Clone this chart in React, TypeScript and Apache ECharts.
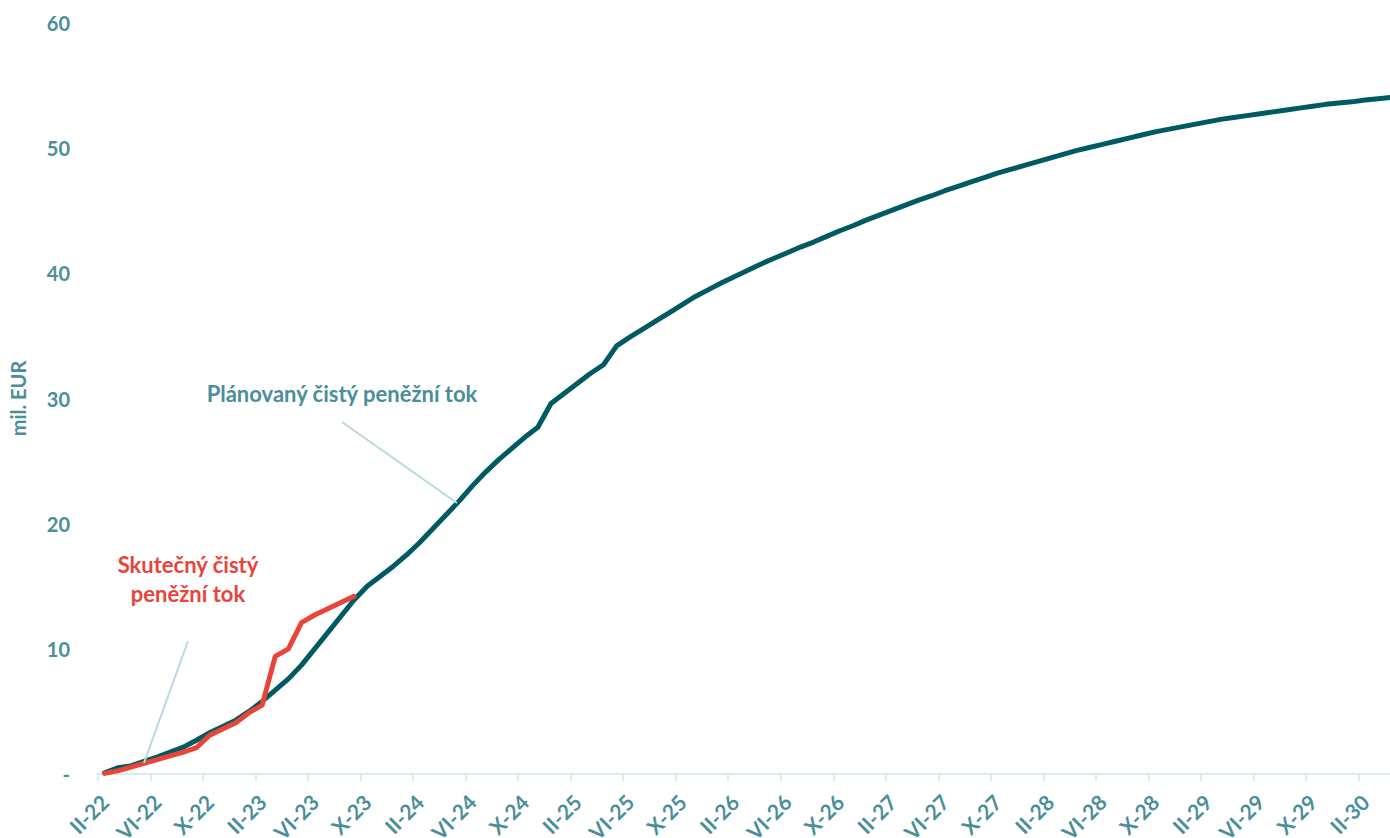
import React, { useEffect, useRef } from "react";
import * as echarts from "echarts";

const ROMAN = ["I", "II", "III", "IV", "V", "VI", "VII", "VIII", "IX", "X", "XI", "XII"];
const START_YEAR = 22;
const START_MONTH = 1; // index into ROMAN (II)
const MONTH_COUNT = 100;

const categories: string[] = [];
for (let i = 0; i < MONTH_COUNT; i++) {
  const m = (START_MONTH + i) % 12;
  const y = START_YEAR + Math.floor((START_MONTH + i) / 12);
  categories.push(`${ROMAN[m]}-${y}`);
}

const planned = [
  0.1, 0.5, 0.65, 1.0, 1.35, 1.75, 2.15, 2.7, 3.3, 3.8,
  4.3, 5.0, 5.8, 6.7, 7.6, 8.7, 10.0, 11.3, 12.6, 13.9,
  15.0, 15.8, 16.6, 17.5, 18.5, 19.6, 20.7, 21.8, 23.0, 24.1,
  25.1, 26.0, 26.9, 27.7, 29.6, 30.4, 31.2, 32.0, 32.7, 34.2,
  34.9, 35.55, 36.2, 36.85, 37.5, 38.15, 38.7, 39.25, 39.75, 40.25,
  40.75, 41.2, 41.65, 42.1, 42.5, 42.95, 43.4, 43.8, 44.25, 44.65,
  45.05, 45.45, 45.85, 46.2, 46.6, 46.95, 47.3, 47.65, 48.0, 48.3,
  48.6, 48.9, 49.2, 49.5, 49.8, 50.05, 50.3, 50.55, 50.8, 51.05,
  51.3, 51.5, 51.7, 51.9, 52.1, 52.3, 52.45, 52.6, 52.75, 52.9,
  53.05, 53.2, 53.35, 53.5, 53.6, 53.7, 53.85, 53.95, 54.05, 54.15,
];

const actual = [
  0.05, 0.25, 0.55, 0.85, 1.15, 1.45, 1.75, 2.1, 3.1, 3.6,
  4.1, 4.9, 5.5, 9.4, 10.0, 12.1, 12.7, 13.2, 13.7, 14.2,
];

const PLAN_LABEL = "Plánovaný čistý peněžní tok";
const ACTUAL_LABEL = ["Skutečný čistý", "peněžní tok"];
const Y_NAME = "mil. EUR";

const TEAL_TEXT = "#4A8E99";
const PLAN_COLOR = "#005A62";
const RED = "#E8443A";
const AXIS_COLOR = "#DCEBEE";
const LEADER = "#B7D9DF";
const FONT = "Lato, 'Open Sans', sans-serif";

export default function App() {
  const ref = useRef<HTMLDivElement>(null);
  useEffect(() => {
    if (!ref.current) return;
    const chart = echarts.init(ref.current, null, { renderer: "svg" });
    chart.setOption({
      animation: false,
      backgroundColor: "#ffffff",
      textStyle: { fontFamily: FONT },
      grid: { left: 98, right: 0, top: 23, bottom: 64, containLabel: false, outerBoundsMode: "none" },
      xAxis: {
        type: "category",
        data: categories,
        boundaryGap: true,
        axisLine: { lineStyle: { color: AXIS_COLOR, width: 2 } },
        axisTick: { show: true, interval: 3, length: 7, lineStyle: { color: AXIS_COLOR, width: 2 } },
        axisLabel: {
          interval: 3,
          rotate: 45,
          margin: 24,
          color: TEAL_TEXT,
          fontSize: 21,
          fontWeight: "bold",
          fontFamily: FONT,
        },
        splitLine: { show: false },
      },
      yAxis: {
        type: "value",
        min: 0,
        max: 60,
        interval: 10,
        name: Y_NAME,
        nameLocation: "middle",
        nameGap: 70,
        nameTextStyle: { color: TEAL_TEXT, fontSize: 20, fontWeight: "bold", fontFamily: FONT },
        axisLine: { show: false },
        axisTick: { show: false },
        splitLine: { show: false },
        axisLabel: {
          margin: 28,
          color: TEAL_TEXT,
          fontSize: 20,
          fontWeight: "bold",
          fontFamily: FONT,
          formatter: (v: number) => (v === 0 ? "-" : String(v)),
        },
      },
      series: [
        {
          name: "planned",
          type: "line",
          data: planned,
          symbol: "none",
          lineStyle: { color: PLAN_COLOR, width: 5, cap: "round", join: "round" },
          z: 2,
        },
        {
          name: "actual",
          type: "line",
          data: actual,
          symbol: "none",
          lineStyle: { color: RED, width: 5, cap: "round", join: "round" },
          z: 3,
        },
      ],
      graphic: [
        {
          type: "line",
          shape: { x1: 342, y1: 422, x2: 457, y2: 503 },
          style: { stroke: LEADER, lineWidth: 2 },
          z: 10,
        },
        {
          type: "line",
          shape: { x1: 188, y1: 641, x2: 144, y2: 763 },
          style: { stroke: LEADER, lineWidth: 2 },
          z: 10,
        },
        {
          type: "text",
          x: 342,
          y: 393,
          style: {
            text: PLAN_LABEL,
            fill: TEAL_TEXT,
            font: `bold 22px ${FONT}`,
            textAlign: "center",
            textVerticalAlign: "middle",
          },
          z: 10,
        },
        {
          type: "text",
          x: 188,
          y: 564,
          style: {
            text: ACTUAL_LABEL[0],
            fill: RED,
            font: `bold 22px ${FONT}`,
            textAlign: "center",
            textVerticalAlign: "middle",
          },
          z: 10,
        },
        {
          type: "text",
          x: 188,
          y: 593,
          style: {
            text: ACTUAL_LABEL[1],
            fill: RED,
            font: `bold 22px ${FONT}`,
            textAlign: "center",
            textVerticalAlign: "middle",
          },
          z: 10,
        },
      ],
    });
    return () => chart.dispose();
  }, []);
  return (
    <div style={{ position: "fixed", left: 0, top: 0, width: 1390, height: 838, overflow: "hidden" }}>
      <div ref={ref} style={{ width: 1411, height: 838 }} />
    </div>
  );
}
